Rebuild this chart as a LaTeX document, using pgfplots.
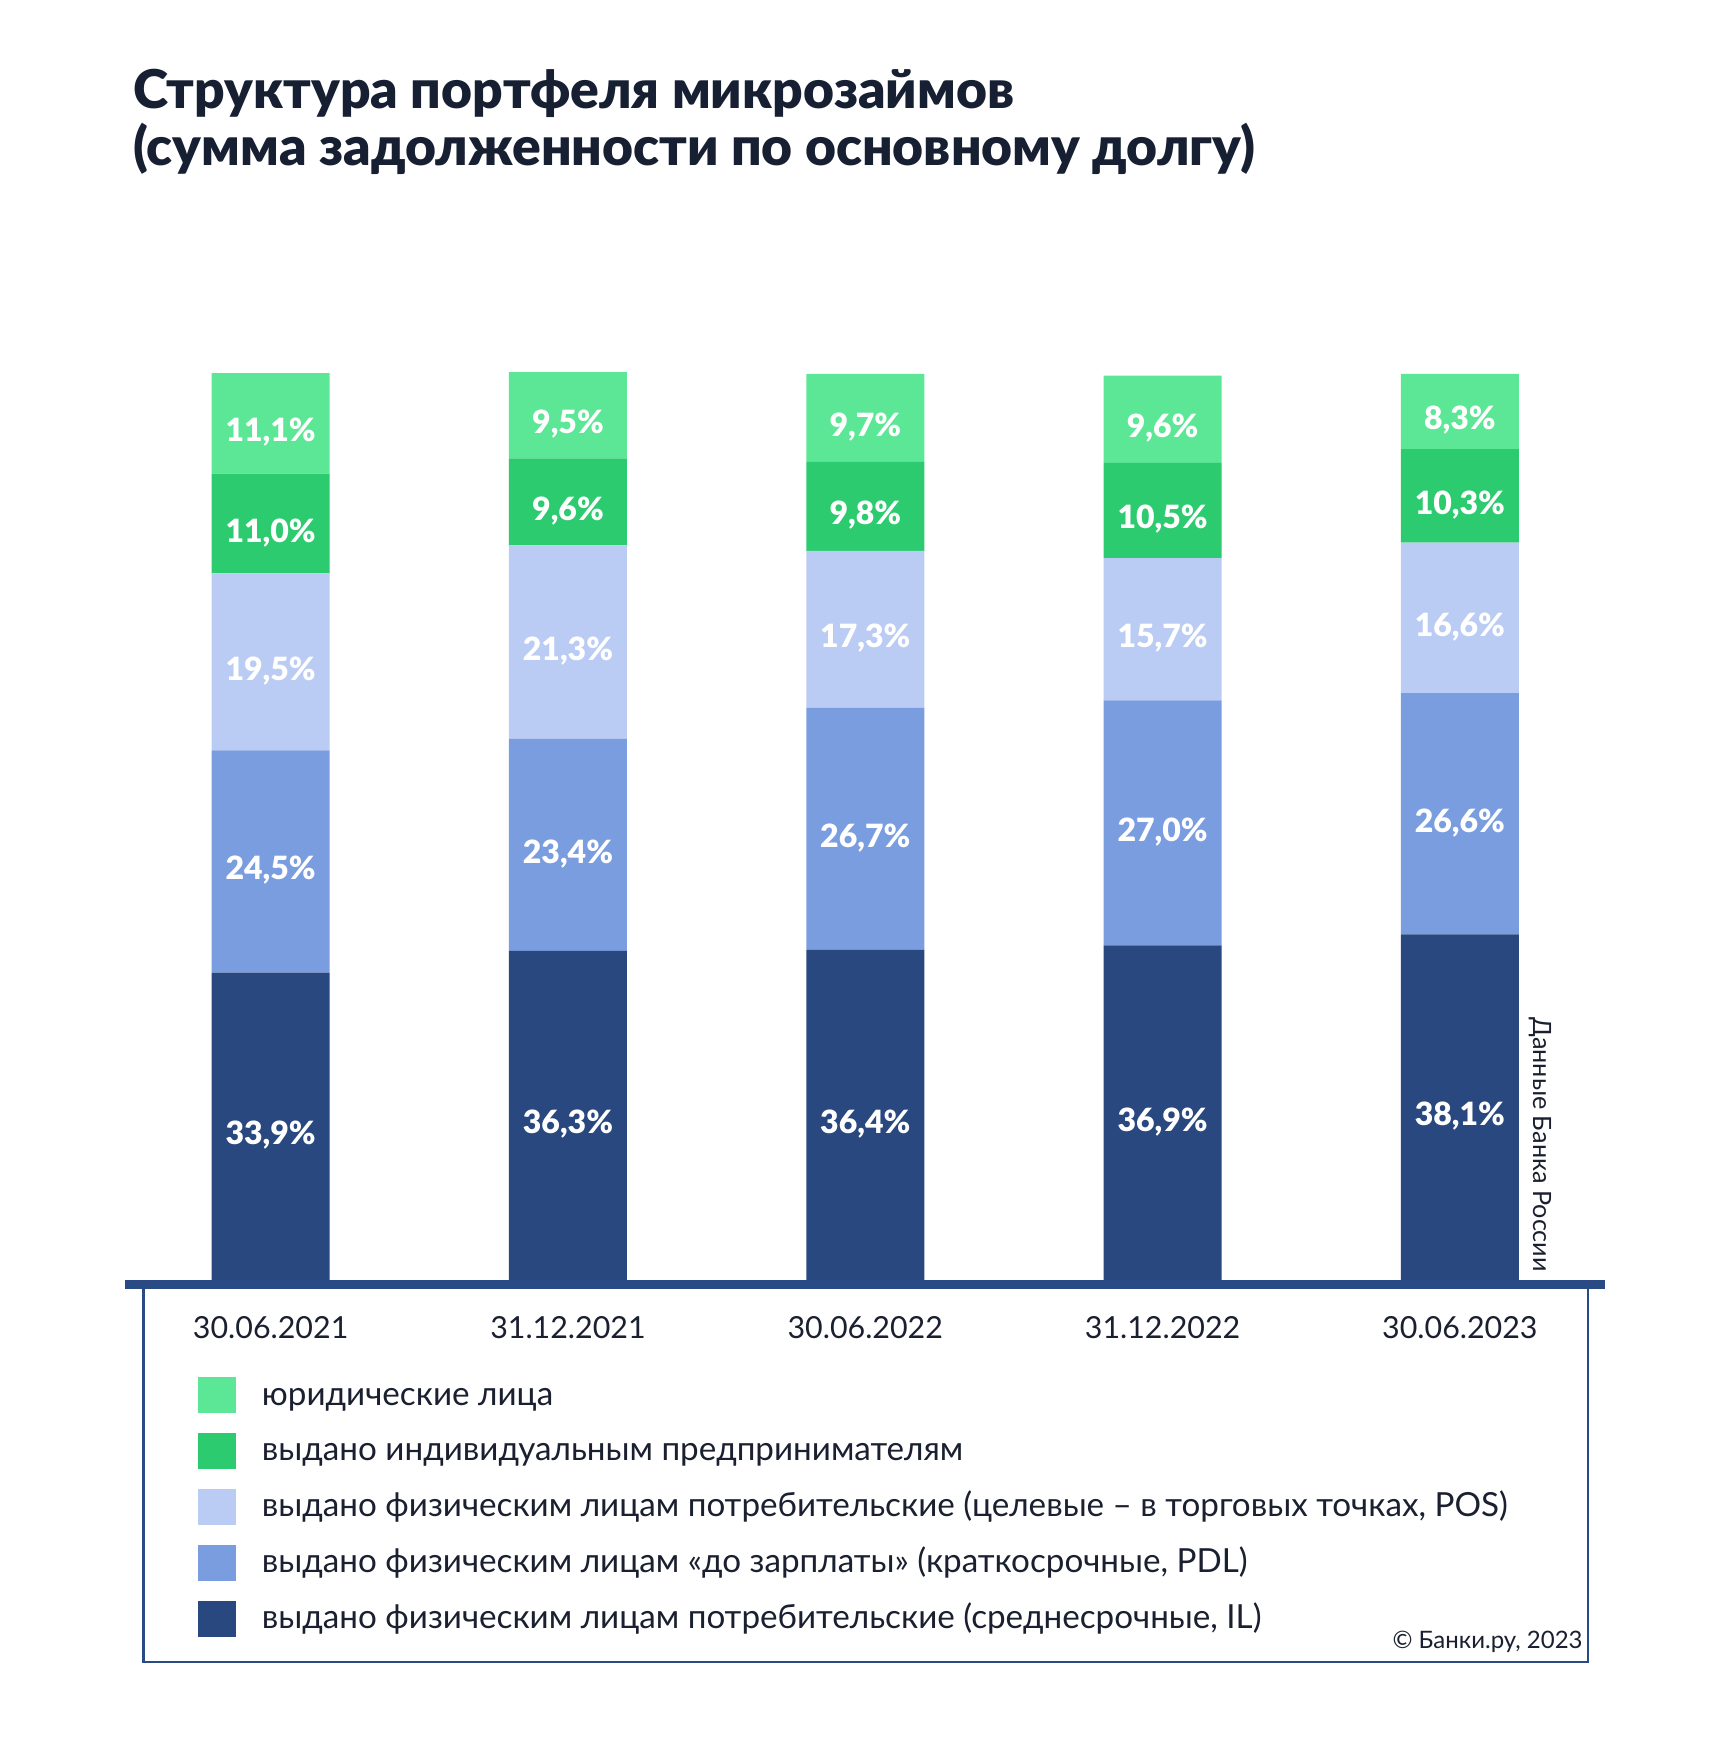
\documentclass[border=0pt]{standalone}
\usepackage{fontspec}
\setmainfont{Lato}
\newfontfamily\heavyfont{Lato Black}
\usepackage{pgfplots}
\pgfplotsset{compat=1.18}

\definecolor{cIL}{HTML}{28487F}
\definecolor{cPDL}{HTML}{7A9DE0}
\definecolor{cPOS}{HTML}{BACCF3}
\definecolor{cIP}{HTML}{2DCB6F}
\definecolor{cUL}{HTML}{5BE795}
\definecolor{navyline}{HTML}{2A4A86}
\definecolor{titlecol}{HTML}{172033}
\definecolor{txt}{HTML}{1A2030}

\begin{document}
\begin{tikzpicture}[x=1pt,y=1pt]
\fill[white] (0,0) rectangle (856,-873.5);

% title
\node[anchor=base west, inner sep=0pt, text=titlecol, font=\heavyfont\fontsize{26.7}{30}\selectfont]
  at (66.5,-54) {Структура портфеля микрозаймов};
\node[anchor=base west, inner sep=0pt, text=titlecol, font=\heavyfont\fontsize{26.7}{30}\selectfont]
  at (66.5,-82.5) {(сумма задолженности по основному долгу)};

\begin{axis}[
  at={(62.5pt,-640pt)}, anchor=south west,
  scale only axis, width=740pt, height=453.5pt,
  xmin=-0.49, xmax=4.488, ymin=0, ymax=100,
  clip=false,
  ybar stacked, bar width=59pt,
  axis y line=none, axis x line*=bottom,
  x axis line style={draw=none},
  xtick=data, xtick style={draw=none},
  xticklabels={30.06.2021,31.12.2021,30.06.2022,31.12.2022,30.06.2023},
  xticklabel style={anchor=base, yshift=-29pt, text=txt,
    font=\fontsize{15.2}{18}\selectfont},
  nodes near coords={\pgfmathprintnumber{\pgfplotspointmeta}\%},
  every node near coord/.append style={anchor=center, yshift=-4.5pt,
    text=white, font=\heavyfont\fontsize{16}{19}\selectfont},
  /pgf/number format/fixed, /pgf/number format/fixed zerofill,
  /pgf/number format/precision=1, /pgf/number format/use comma,
  /pgf/number format/assume math mode=true,
  reverse legend,
  legend cell align=left,
  legend image code/.code={\fill[#1] (0pt,-4pt) rectangle (19pt,14pt);},
  legend style={at={(0.04932,-0.10695)}, anchor=north west, draw=none, fill=none,
    inner sep=0pt, outer sep=0pt, row sep=9.95pt, column sep=13pt,
    nodes={inner sep=0pt, anchor=base west},
    font=\fontsize{16.6}{20}\selectfont, text=txt},
]
\addplot[fill=cIL, draw=none] coordinates {(0,33.9) (1,36.3) (2,36.4) (3,36.9) (4,38.1)};
\addplot[fill=cPDL, draw=none] coordinates {(0,24.5) (1,23.4) (2,26.7) (3,27.0) (4,26.6)};
\addplot[fill=cPOS, draw=none] coordinates {(0,19.5) (1,21.3) (2,17.3) (3,15.7) (4,16.6)};
\addplot[fill=cIP, draw=none] coordinates {(0,11.0) (1,9.6) (2,9.8) (3,10.5) (4,10.3)};
\addplot[fill=cUL, draw=none] coordinates {(0,11.1) (1,9.5) (2,9.7) (3,9.6) (4,8.3)};
\legend{{выдано физическим лицам потребительские (среднесрочные, IL)},
  {выдано физическим лицам «до зарплаты» (краткосрочные, PDL)},
  {выдано физическим лицам потребительские (целевые – в торговых точках, POS)},
  {выдано индивидуальным предпринимателям},
  {юридические лица}}
\end{axis}

% baseline of the chart and frame around the legend
\draw[navyline, line width=4.5pt] (62.5,-642.25) -- (802.5,-642.25);
\draw[navyline, line width=1.3pt] (71.85,-644.5) -- (71.85,-831) -- (794,-831) -- (794,-644.5);

% source notes
\node[anchor=base west, inner sep=0pt, rotate=-90, text=txt, font=\fontsize{12.6}{14}\selectfont]
  at (766.5,-508.5) {Данные Банка России};
\node[anchor=base east, inner sep=0pt, text=txt, font=\fontsize{12}{14}\selectfont]
  at (791.5,-824) {© Банки.ру, 2023};
\end{tikzpicture}
\end{document}
